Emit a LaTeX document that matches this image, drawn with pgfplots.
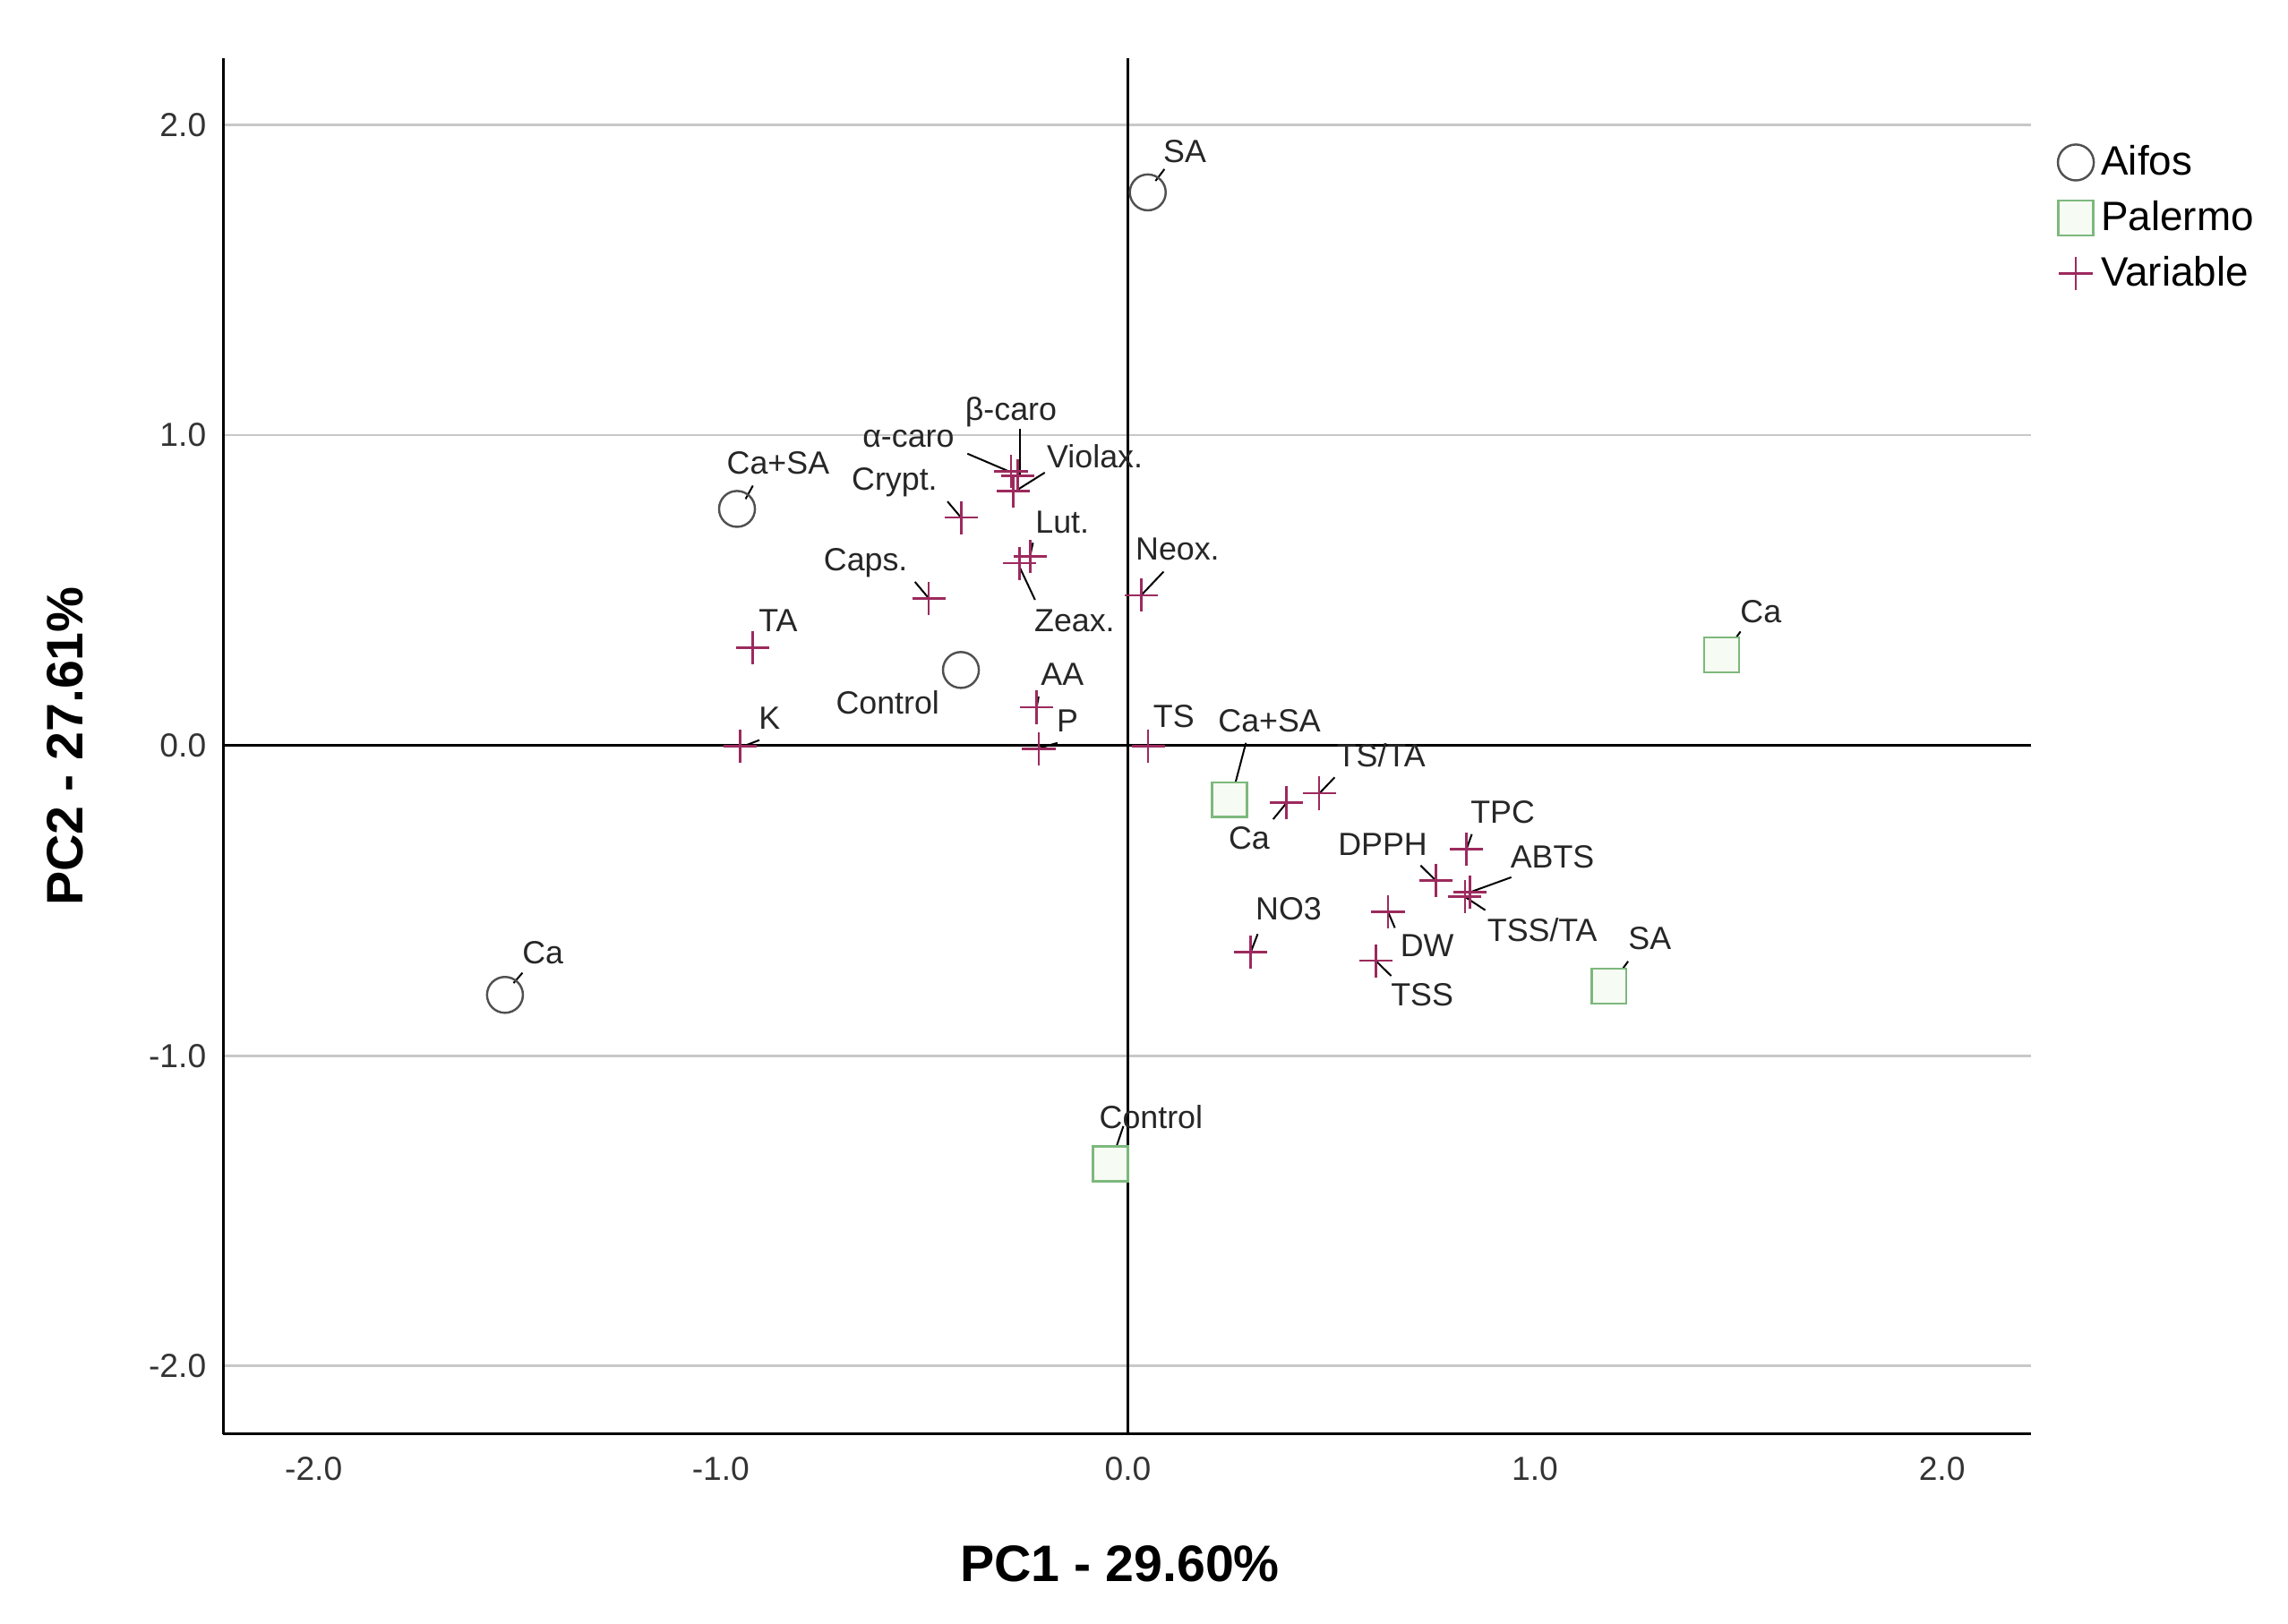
\documentclass[border=0pt]{standalone}
\usepackage{fontspec}
\setmainfont{Liberation Sans}
\usepackage{pgfplots}
\pgfplotsset{compat=1.18}
\usepackage{pgfplotstable}

\definecolor{aifoscol}{HTML}{505050}
\definecolor{palcol}{HTML}{7DB87D}
\definecolor{palfill}{HTML}{F6FBF3}
\definecolor{varcol}{HTML}{9C2A5E}
\definecolor{gridgray}{HTML}{C8C8C8}

% PCA scores: Aifos
\pgfplotstableread{
x y
0.049 1.782
-0.960 0.762
-0.410 0.243
-1.530 -0.804
}\tabAifos

% PCA scores: Palermo
\pgfplotstableread{
x y
1.459 0.291
0.250 -0.175
1.182 -0.776
-0.043 -1.349
}\tabPalermo

% loadings
\pgfplotstableread{
x y
-0.287 0.883
-0.270 0.868
-0.282 0.820
-0.409 0.734
-0.240 0.609
-0.266 0.587
-0.489 0.474
0.033 0.484
-0.922 0.315
-0.224 0.123
-0.952 -0.002
-0.219 -0.012
0.050 -0.002
0.390 -0.185
0.470 -0.154
0.832 -0.334
0.757 -0.435
0.841 -0.473
0.828 -0.488
0.302 -0.666
0.639 -0.536
0.609 -0.694
}\tabVar

\begin{document}
\begin{tikzpicture}[lbl/.style={font=\fontsize{12.5}{15}\selectfont, inner sep=0pt, text=black!85}]
\begin{axis}[
    name=ax,
    width=24.78cm, height=18.86cm, scale only axis,
    xmin=-2.222, xmax=2.219, ymin=-2.219, ymax=2.214,
    axis x line*=bottom, axis y line*=left,
    axis line style={black, line width=1.1pt, -},
    xtick={-2,-1,0,1,2}, ytick={-2,-1,0,1,2},
    major tick length=0pt,
    /pgf/number format/assume math mode=true,
    ticklabel style={font=\fontsize{13}{15}\selectfont, text=black!80,
        /pgf/number format/fixed, /pgf/number format/fixed zerofill,
        /pgf/number format/precision=1},
    xticklabel style={yshift=-0.19cm},
    yticklabel style={xshift=-0.11cm},
    ymajorgrids, grid style={gridgray, line width=1pt},
    xlabel={PC1 - 29.60\%}, ylabel={PC2 - 27.61\%},
    every axis x label/.style={at={(axis description cs:0.496,-0.0944)}, anchor=center,
        font=\fontsize{20}{24}\selectfont\bfseries},
    every axis y label/.style={at={(axis description cs:-0.0872,0.5)}, rotate=90, anchor=center,
        font=\fontsize{20}{24}\selectfont\bfseries},
    legend style={at={(1.0145,0.939)}, anchor=north west, draw=none, fill=none,
        font=\fontsize{16}{19}\selectfont, row sep=0.22cm, column sep=0.06cm, inner sep=0pt,
        nodes={inner sep=0.04cm}},
    legend cell align=left,
    clip=false,
]
\draw[black, line width=1.2pt] (axis cs:0,-2.219) -- (axis cs:0,2.214);
\draw[black, line width=1.2pt] (axis cs:-2.222,0) -- (axis cs:2.219,0);

\addplot[only marks, mark=o, mark size=7pt, mark options={draw=aifoscol, line width=0.85pt, fill=white}] table {\tabAifos};
\addlegendentry{Aifos}
\addplot[only marks, mark=square*, mark size=6.8pt, mark options={draw=palcol, line width=0.85pt, fill=palfill}] table {\tabPalermo};
\addlegendentry{Palermo}
\addplot[only marks, mark=+, mark size=6.5pt, mark options={draw=varcol, line width=0.9pt}] table {\tabVar};
\addlegendentry{Variable}

% leader lines
\begin{scope}[black, line width=0.7pt]
\draw (axis cs:0.068,1.819) -- (axis cs:0.090,1.857);
\draw (axis cs:-0.939,0.794) -- (axis cs:-0.921,0.837);
\draw (axis cs:-1.509,-0.766) -- (axis cs:-1.487,-0.733);
\draw (axis cs:1.487,0.334) -- (axis cs:1.505,0.367);
\draw (axis cs:0.264,-0.122) -- (axis cs:0.290,0.008);
\draw (axis cs:1.208,-0.733) -- (axis cs:1.229,-0.696);
\draw (axis cs:-0.029,-1.297) -- (axis cs:-0.011,-1.227);
\draw (axis cs:-0.265,1.020) -- (axis cs:-0.265,0.870);
\draw (axis cs:-0.394,0.940) -- (axis cs:-0.294,0.884);
\draw (axis cs:-0.204,0.879) -- (axis cs:-0.272,0.823);
\draw (axis cs:-0.443,0.786) -- (axis cs:-0.409,0.733);
\draw (axis cs:-0.233,0.653) -- (axis cs:-0.240,0.611);
\draw (axis cs:-0.228,0.469) -- (axis cs:-0.266,0.575);
\draw (axis cs:-0.523,0.527) -- (axis cs:-0.489,0.474);
\draw (axis cs:0.088,0.560) -- (axis cs:0.033,0.484);
\draw (axis cs:-0.219,0.157) -- (axis cs:-0.224,0.123);
\draw (axis cs:-0.905,0.017) -- (axis cs:-0.939,0.000);
\draw (axis cs:-0.173,0.008) -- (axis cs:-0.215,-0.008);
\draw (axis cs:0.357,-0.238) -- (axis cs:0.390,-0.185);
\draw (axis cs:0.508,-0.103) -- (axis cs:0.471,-0.154);
\draw (axis cs:0.845,-0.286) -- (axis cs:0.832,-0.334);
\draw (axis cs:0.719,-0.387) -- (axis cs:0.756,-0.435);
\draw (axis cs:0.942,-0.425) -- (axis cs:0.841,-0.473);
\draw (axis cs:0.878,-0.531) -- (axis cs:0.828,-0.488);
\draw (axis cs:0.319,-0.608) -- (axis cs:0.302,-0.666);
\draw (axis cs:0.656,-0.588) -- (axis cs:0.639,-0.536);
\draw (axis cs:0.647,-0.743) -- (axis cs:0.609,-0.694);
\end{scope}

% labels: Aifos
\node[lbl] at (axis cs:0.140,1.915) {SA};
\node[lbl] at (axis cs:-0.859,0.911) {Ca+SA};
\node[lbl] at (axis cs:-0.590,0.137) {Control};
\node[lbl] at (axis cs:-1.437,-0.667) {Ca};
% labels: Palermo
\node[lbl] at (axis cs:1.555,0.431) {Ca};
\node[lbl] at (axis cs:0.348,0.080) {Ca+SA};
\node[lbl] at (axis cs:1.282,-0.622) {SA};
\node[lbl] at (axis cs:0.057,-1.199) {Control};
% labels: variables
\node[lbl] at (axis cs:-0.287,1.075) {β-caro};
\node[lbl] at (axis cs:-0.539,0.988) {α-caro};
\node[lbl] at (axis cs:-0.081,0.931) {Violax.};
\node[lbl] at (axis cs:-0.573,0.849) {Crypt.};
\node[lbl] at (axis cs:-0.161,0.719) {Lut.};
\node[lbl] at (axis cs:0.122,0.633) {Neox.};
\node[lbl] at (axis cs:-0.644,0.589) {Caps.};
\node[lbl] at (axis cs:-0.131,0.402) {Zeax.};
\node[lbl] at (axis cs:-0.859,0.402) {TA};
\node[lbl] at (axis cs:-0.161,0.229) {AA};
\node[lbl] at (axis cs:-0.880,0.089) {K};
\node[lbl] at (axis cs:-0.148,0.079) {P};
\node[lbl] at (axis cs:0.113,0.094) {TS};
\node[lbl] at (axis cs:0.298,-0.300) {Ca};
\node[lbl] at (axis cs:0.622,-0.031) {TS/TA};
\node[lbl] at (axis cs:0.921,-0.214) {TPC};
\node[lbl] at (axis cs:0.626,-0.319) {DPPH};
\node[lbl] at (axis cs:1.043,-0.358) {ABTS};
\node[lbl] at (axis cs:1.018,-0.594) {TSS/TA};
\node[lbl] at (axis cs:0.395,-0.526) {NO3};
\node[lbl] at (axis cs:0.735,-0.646) {DW};
\node[lbl] at (axis cs:0.723,-0.805) {TSS};
\end{axis}
\pgfresetboundingbox
\path ([xshift=-3.06cm,yshift=-2.6cm]ax.south west) rectangle ([xshift=3.52cm,yshift=0.8cm]ax.north east);
\end{tikzpicture}
\end{document}
